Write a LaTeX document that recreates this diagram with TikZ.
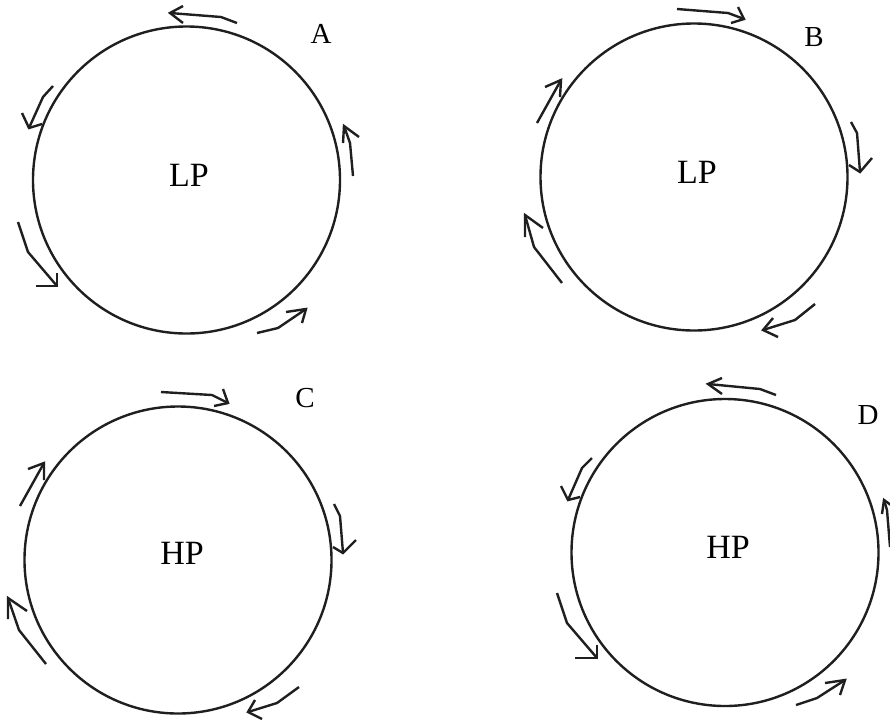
\documentclass[tikz,border=0pt]{standalone}
\usepackage{fontspec}
\setmainfont{Liberation Serif}
\begin{document}
\begin{tikzpicture}[x=1pt,y=-1pt,
  ring/.style={line width=2.4pt,draw=black!88},
  flow/.style={line width=2.4pt,draw=black!88,line join=miter},
  lbl/.style={inner sep=0pt,font=\fontsize{29}{29}\selectfont},
  pres/.style={inner sep=0pt,font=\fontsize{34}{34}\selectfont}]
\useasboundingbox (0,0) rectangle (890,721);
% circles
\draw[ring] (186.5,180) circle (153.5);
\draw[ring] (694,177) circle (153.5);
\draw[ring] (178,560) circle (153.5);
\draw[ring] (725,552.5) circle (153.5);
% labels
\node[lbl] (la) at (321,34) {A};
\node[lbl] (lb) at (814,37) {B};
\node[lbl] (lc) at (305,398) {C};
\node[lbl] (ld) at (868,415) {D};
\node[pres] (pa) at (189,175) {LP};
\node[pres] (pb) at (697,172) {LP};
\node[pres] (pc) at (182,553) {HP};
\node[pres] (pd) at (728,547) {HP};
% arrows A
\draw[flow] (237,23) -- (221,17) -- (170,13);
\draw[flow] (183,6) -- (170,13) -- (183,23);
\draw[flow] (53,86) -- (43,97) -- (29,128);
\draw[flow] (22,113) -- (29,128) -- (42,124);
\draw[flow] (353,176) -- (350,143) -- (344,126);
\draw[flow] (343,143) -- (344,126) -- (359,137);
\draw[flow] (18,222) -- (28,252) -- (57,286);
\draw[flow] (36,286) -- (57,286) -- (57,273);
\draw[flow] (257,333) -- (278,328) -- (306,309);
\draw[flow] (286,312) -- (306,309) -- (302,323);
% arrows B
\draw[flow] (677,9) -- (728,13) -- (744,19);
\draw[flow] (738,7) -- (744,19) -- (731,23);
\draw[flow] (537,123) -- (561,80);
\draw[flow] (545,87) -- (561,80) -- (560,97);
\draw[flow] (851,122) -- (857,133) -- (860,172);
\draw[flow] (849,165) -- (860,172) -- (872,158);
\draw[flow] (562,283) -- (534,247) -- (525,215);
\draw[flow] (525,237) -- (525,215) -- (543,228);
\draw[flow] (815,304) -- (795,320) -- (763,330);
\draw[flow] (773,318) -- (763,330) -- (778,337);
% arrows C
\draw[flow] (161,392) -- (212,395) -- (228,403);
\draw[flow] (223,389) -- (228,403) -- (214,406);
\draw[flow] (20,506) -- (44,463);
\draw[flow] (28,469) -- (44,463) -- (44,480);
\draw[flow] (334,504) -- (340,516) -- (343,553);
\draw[flow] (333,547) -- (343,553) -- (356,540);
\draw[flow] (46,664) -- (19,630) -- (8,598);
\draw[flow] (8,619) -- (8,598) -- (27,611);
\draw[flow] (299,687) -- (277,703) -- (248,712);
\draw[flow] (255,700) -- (248,712) -- (262,719);
% arrows D
\draw[flow] (776,395) -- (760,389) -- (708,384);
\draw[flow] (722,378) -- (708,384) -- (722,394);
\draw[flow] (592,458) -- (582,468) -- (568,500);
\draw[flow] (561,486) -- (568,500) -- (580,497);
\draw[flow] (890,547) -- (887,510) -- (884,500);
\draw[flow] (882,514) -- (884,500) -- (895,508);
\draw[flow] (557,593) -- (567,623) -- (597,658);
\draw[flow] (575,658) -- (597,658) -- (597,645);
\draw[flow] (796,705) -- (817,698) -- (845,680);
\draw[flow] (825,683) -- (845,680) -- (840,695);
\end{tikzpicture}
\end{document}
